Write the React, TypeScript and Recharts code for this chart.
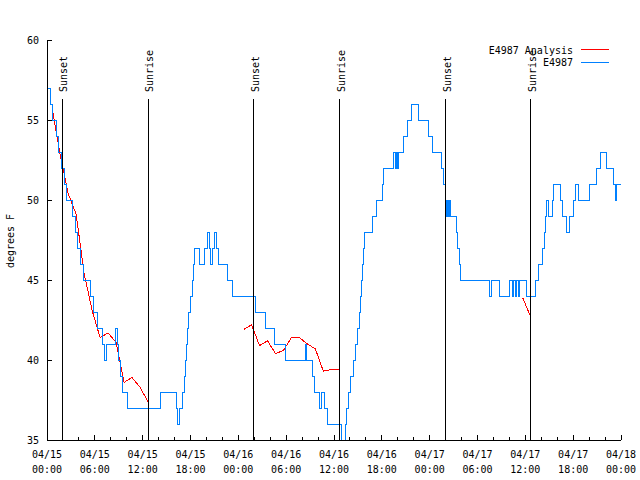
import React from "react";
import { Legend, Line, LineChart, ReferenceLine, XAxis, YAxis } from "recharts";

const FONT = "'DejaVu Sans Mono', 'Liberation Mono', monospace";
const TITLE = "Temperature for E4987 on 2024-Apr-15 (time in UTC)";

// observations (stepped), hours since 04/15 00:00 UTC
const BLUE_HOURS = [
  0.1, 0.45, 0.75, 1.15, 1.5, 1.85, 2.2, 2.5, 3.2, 3.6, 3.85, 4.15, 4.55, 5.4, 5.8, 6.3, 7.0, 7.2, 7.45,
  8.55, 8.8, 9.0, 9.2, 9.45, 10.15, 14.25, 16.25, 16.4, 16.6, 16.95, 17.2, 17.4, 17.5, 17.65, 17.8, 18.0,
  18.2, 18.35, 18.5, 19.1, 19.75, 20.1, 20.35, 20.5, 20.75, 20.95, 21.2, 21.45, 22.6, 23.3, 26.1, 27.45,
  28.5, 29.95, 32.4, 32.6, 33.3, 33.6, 34.2, 34.45, 34.85, 35.2, 36.95, 37.4, 37.6, 37.85, 38.1, 38.5,
  38.75, 39.0, 39.2, 39.35, 39.45, 39.55, 39.65, 39.85, 40.8, 41.35, 42.1, 42.2, 43.5, 43.75, 43.85,
  43.95, 44.1, 44.75, 45.2, 45.7, 46.55, 47.8, 48.3, 49.5, 49.75, 49.95, 50.1, 50.2, 50.35, 50.45, 50.6,
  51.35, 51.45, 51.7, 51.85, 55.55, 55.75, 56.8, 58.0, 58.35, 58.5, 58.75, 58.95, 59.15, 59.25, 60.1,
  61.3, 61.6, 62.1, 62.4, 62.55, 62.7, 62.85, 63.35, 63.55, 64.35, 64.6, 65.2, 65.6, 66.1, 66.35, 66.7,
  68.05, 68.9, 69.4, 70.15, 71.0, 71.25, 71.45, 72,
];
const BLUE_TEMPS = [
  57, 56, 55, 54, 53, 52, 51, 50, 49, 48, 47, 46, 45, 44, 43, 42, 41, 40, 41,
  42, 41, 40, 39, 38, 37, 38, 37, 36, 37, 38, 39, 40, 41, 42, 43, 44,
  45, 46, 47, 46, 47, 48, 47, 46, 47, 48, 47, 46, 45, 44, 43, 42,
  41, 40, 41, 40, 39, 38, 37, 38, 37, 36, 35, 36, 37, 38, 39, 40,
  41, 42, 43, 44, 45, 46, 47, 48, 49, 50, 51, 52, 53, 52, 53,
  52, 53, 54, 55, 56, 55, 54, 53, 52, 51, 50, 49, 50, 49, 50, 49,
  48, 47, 46, 45, 44, 45, 44, 45, 44, 45, 44, 45, 44, 45, 44,
  45, 46, 47, 48, 49, 50, 49, 50, 51, 50, 49, 48, 49, 50, 51, 50,
  51, 52, 53, 52, 51, 50, 51, 51,
];

// analysis, hourly, null = gap
const RED_HOURS = [
  0.66, 1.66, 2.66, 3.66, 4.66, 5.66, 6.66, 7.66, 8.66, 9.66, 10.66, 11.66, 12.66, 18,
  24.66, 25.66, 26.66, 27.66, 28.66, 29.66, 30.66, 31.66, 32.66, 33.66, 34.66, 35.66, 36.66, 48,
  59.66, 60.66,
];
const RED_TEMPS = [
  55.7, 52.8, 50.4, 49.1, 45.4, 43.1, 41.4, 41.7, 41.1, 38.6, 38.9, 38.3, 37.4, null,
  41.9, 42.2, 40.9, 41.2, 40.4, 40.6, 41.4, 41.4, 41.0, 40.7, 39.3, 39.4, 39.4, null,
  43.9, 42.7,
];

const SUN_HOURS = [1.92, 12.72, 25.93, 36.72, 50.0, 60.7];
const SUN_NAMES = ["Sunset", "Sunrise", "Sunset", "Sunrise", "Sunset", "Sunrise"];

const X_TICKS = [0, 2, 4, 6, 8, 10, 12, 14, 16, 18, 20, 22, 24, 26, 28, 30, 32, 34, 36, 38, 40, 42, 44, 46, 48, 50, 52, 54, 56, 58, 60, 62, 64, 66, 68, 70, 72];
const X_MAJOR = [0, 6, 12, 18, 24, 30, 36, 42, 48, 54, 60, 66, 72];
const X_DATES = ["04/15", "04/15", "04/15", "04/15", "04/16", "04/16", "04/16", "04/16", "04/17", "04/17", "04/17", "04/17", "04/18"];
const X_TIMES = ["00:00", "06:00", "12:00", "18:00", "00:00", "06:00", "12:00", "18:00", "00:00", "06:00", "12:00", "18:00", "00:00"];
const Y_TICKS = [35, 40, 45, 50, 55, 60];

const LEGEND_NAMES = ["E4987 Analysis", "E4987"];
const LEGEND_COLORS = ["#ff0000", "#0080ff"];

const txt = { fontFamily: FONT, fontSize: 10, fill: "#000" };

const BottomTick = (p: any) => {
  const i = X_MAJOR.indexOf(p.payload.value);
  const major = i >= 0;
  return (
    <g>
      <line x1={p.x} y1={p.y} x2={p.x} y2={p.y - (major ? 5 : 3)} stroke="#000" />
      {major && (
        <text x={p.x} y={p.y + 18} textAnchor="middle" style={txt}>
          <tspan x={p.x}>{X_DATES[i]}</tspan>
          <tspan x={p.x} dy={15}>{X_TIMES[i]}</tspan>
        </text>
      )}
    </g>
  );
};

const TopTick = (p: any) => {
  const major = X_MAJOR.includes(p.payload.value);
  return <line x1={p.x} y1={p.y} x2={p.x} y2={p.y + (major ? 5 : 3)} stroke="#000" />;
};

const LeftTick = (p: any) => (
  <g>
    <line x1={p.x} y1={p.y} x2={p.x + 5} y2={p.y} stroke="#000" />
    <text x={p.x - 8} y={p.y} dy="0.35em" textAnchor="end" style={txt}>
      {p.payload.value}
    </text>
  </g>
);

const RightTick = (p: any) => <line x1={p.x} y1={p.y} x2={p.x - 5} y2={p.y} stroke="#000" />;

const ChartTitle = () => (
  <text x={333} y={20} dy="0.35em" textAnchor="middle" style={txt}>
    {TITLE}
  </text>
);

const YTitle = () => (
  <text x={10} y={241} dy="0.35em" textAnchor="middle" transform="rotate(-90 10 241)" style={txt}>
    degrees F
  </text>
);

const SunLabel = ({ viewBox, text }: any) => {
  if (!viewBox) return null;
  const x = viewBox.x + 1.5;
  return (
    <text x={x} y={92} dy="0.35em" textAnchor="start" transform={`rotate(-90 ${x} 92)`} style={txt}>
      {text}
    </text>
  );
};

const renderLegend = () => (
  <svg width={150} height={30} style={{ display: "block" }}>
    {LEGEND_NAMES.map((name, i) => (
      <g key={name}>
        <text x={93} y={7 + i * 12} dy="0.35em" textAnchor="end" style={txt}>
          {name}
        </text>
        <line x1={101} x2={129} y1={6.5 + i * 12.5} y2={6.5 + i * 12.5} stroke={LEGEND_COLORS[i]} />
      </g>
    ))}
  </svg>
);

export default function App() {
  const blueData = BLUE_HOURS.map((h, i) => ({ h, t: BLUE_TEMPS[i] }));
  const redData = RED_HOURS.map((h, i) => ({ h, t: RED_TEMPS[i] }));

  return (
    <div style={{ position: "absolute", left: 0, top: 0, width: 640, height: 480, background: "#fff", shapeRendering: "crispEdges" }}>
      <LineChart width={640} height={480} margin={{ top: 40, right: 19, bottom: 0, left: 0 }}>
        <XAxis
          type="number"
          dataKey="h"
          domain={[0, 72]}
          ticks={X_TICKS}
          interval={0}
          height={40}
          tickSize={0}
          tickMargin={0}
          tickLine={false}
          axisLine={{ stroke: "#000" }}
          tick={BottomTick}
          allowDataOverflow
        />
        <XAxis
          xAxisId="top"
          orientation="top"
          type="number"
          dataKey="h"
          domain={[0, 72]}
          ticks={X_TICKS}
          interval={0}
          height={0}
          tickSize={0}
          tickMargin={0}
          tickLine={false}
          axisLine={{ stroke: "#000" }}
          tick={TopTick}
          label={<ChartTitle />}
        />
        <YAxis
          type="number"
          domain={[35, 60]}
          ticks={Y_TICKS}
          interval={0}
          width={47}
          tickSize={0}
          tickMargin={0}
          tickLine={false}
          axisLine={{ stroke: "#000" }}
          tick={LeftTick}
          label={<YTitle />}
          allowDataOverflow
        />
        <YAxis
          yAxisId="right"
          orientation="right"
          type="number"
          domain={[35, 60]}
          ticks={Y_TICKS}
          interval={0}
          width={0}
          tickSize={0}
          tickMargin={0}
          tickLine={false}
          axisLine={{ stroke: "#000" }}
          tick={RightTick}
        />
        <Line
          data={redData}
          dataKey="t"
          name="E4987 Analysis"
          type="linear"
          stroke="#ff0000"
          strokeWidth={1}
          dot={false}
          activeDot={false}
          connectNulls={false}
          isAnimationActive={false}
        />
        <Line
          data={blueData}
          dataKey="t"
          name="E4987"
          type="stepAfter"
          stroke="#0080ff"
          strokeWidth={1}
          dot={false}
          activeDot={false}
          isAnimationActive={false}
        />
        {SUN_HOURS.map((h, i) => (
          <ReferenceLine
            key={i}
            segment={[{ x: h, y: 35 }, { x: h, y: 56.3 }]}
            stroke="#000"
            strokeWidth={1}
            isFront
            label={<SunLabel text={SUN_NAMES[i]} />}
          />
        ))}
        <Legend
          layout="horizontal"
          verticalAlign="middle"
          align="center"
          content={renderLegend}
          wrapperStyle={{ left: 480, top: 43, width: 150, height: 30 }}
        />
      </LineChart>
    </div>
  );
}
